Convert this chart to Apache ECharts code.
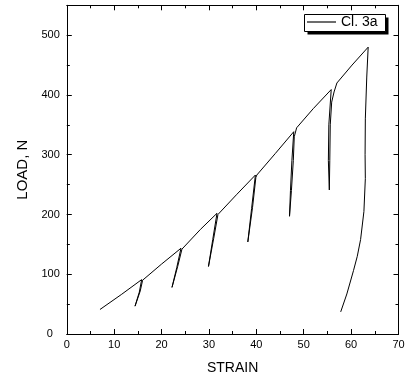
<!DOCTYPE html>
<html>
<head>
<meta charset="utf-8">
<script src="https://cdn.jsdelivr.net/npm/echarts@6/dist/echarts.min.js"></script>
<style>
html,body{margin:0;padding:0;background:#fff;}
#chart{width:409px;height:380px;}
</style>
</head>
<body>
<div id="chart"></div>
<script>
// ---- data (strain, load N) ----
const seriesName = 'Cl. 3a';
const xTickLabels = [0, 10, 20, 30, 40, 50, 60, 70];
const yTickLabels = [0, 100, 200, 300, 400, 500];

const rise1  = [[7.0, 41], [11.5, 66], [15.8, 91]];
const cycle1 = [[15.3, 70], [14.4, 46.6], [15.5, 72], [16.0, 90]];
const rise2  = [[20.0, 117], [24.1, 143.5]];
const cycle2 = [[23.2, 111], [22.2, 78], [23.4, 113], [24.3, 142]];
const rise3  = [[28.2, 175], [31.7, 202]];
const cycle3 = [[30.8, 158], [29.9, 113], [31.0, 160], [31.9, 200]];
const rise4  = [[35.8, 233], [39.8, 266]];
const cycle4 = [[39.0, 210], [38.2, 154], [39.2, 212], [39.9, 262], [40.1, 266]];
const rise5  = [[44.0, 302], [47.9, 338.5]];
const cycle5 = [[47.5, 290], [47.2, 240], [47.0, 197], [47.4, 240], [47.8, 290], [48.0, 330], [48.5, 345]];
const rise6  = [[52.0, 377], [55.8, 409]];
const cycle6 = [[55.3, 350], [55.2, 290], [55.4, 241], [55.5, 290], [55.6, 350], [55.9, 388], [56.4, 405], [57.0, 420]];
const rise7  = [[60.2, 450], [63.6, 480]];
const finalUnload = [[63.3, 430], [63.0, 360], [62.95, 300], [63.0, 260], [62.7, 205], [62.0, 158], [61.3, 130], [60.5, 106], [59.1, 67], [57.8, 37]];

const path = [].concat(rise1, cycle1, rise2, cycle2, rise3, cycle3, rise4, cycle4,
                       rise5, cycle5, rise6, cycle6, rise7, finalUnload);

const chart = echarts.init(document.getElementById('chart'), null, {renderer: 'canvas'});
const black = '#000';
const font = 'Liberation Sans, Arial, sans-serif';

function xAx(pos, labels) {
  return {
    type: 'value', position: pos, min: 0, max: 70, interval: 10,
    axisLine: {show: true, onZero: false, lineStyle: {color: black, width: 1}},
    axisTick: {show: true, inside: true, length: 5, lineStyle: {color: black}},
    minorTick: {show: true, splitNumber: 2, length: 3, lineStyle: {color: black}},
    splitLine: {show: false}, minorSplitLine: {show: false},
    axisLabel: {show: labels, color: black, fontSize: 11, fontFamily: font, margin: 5,
      formatter: v => xTickLabels.includes(v) ? String(v) : ''},
    name: labels ? 'STRAIN' : '', nameLocation: 'middle', nameGap: 27,
    nameTextStyle: {color: black, fontSize: 14, fontFamily: font}
  };
}
function yAx(pos, labels, interval, len, showLine, name) {
  return {
    type: 'value', position: pos, min: 0, max: 550, interval: interval,
    axisLine: {show: showLine, onZero: false, lineStyle: {color: black, width: 1}},
    axisTick: {show: true, inside: true, length: len, lineStyle: {color: black}},
    splitLine: {show: false},
    axisLabel: {show: labels, color: black, fontSize: 11, fontFamily: font, margin: 7,
      showMaxLabel: false,
      formatter: v => yTickLabels.includes(v) ? (v === 0 ? '{z|0}' : String(v)) : '',
      rich: {z: {fontSize: 11, fontFamily: font, color: black, padding: [0, 7, 0, 0]}}},
    name: name || '', nameLocation: 'middle', nameGap: 35,
    nameTextStyle: {color: black, fontSize: 15, fontFamily: font}
  };
}

chart.setOption({
  animation: false,
  backgroundColor: '#fff',
  grid: {left: 66.8, right: 10.5, top: 5.3, bottom: 42.5, containLabel: false},
  xAxis: [xAx('bottom', true), xAx('top', false)],
  yAxis: [
    yAx('left', true, 100, 5, true, 'LOAD, N'),
    yAx('left', false, 50, 3, false),
    yAx('right', false, 100, 5, true),
    yAx('right', false, 50, 3, false)
  ],
  legend: {
    show: true, left: 305, top: 14,
    data: [{name: seriesName, icon: 'path://M0,0 L1,0 L1,0.04 L0,0.04 Z'}],
    itemWidth: 29, itemHeight: 16, itemGap: 0,
    padding: [1, 0, 1, 2],
    backgroundColor: 'transparent', borderWidth: 0,
    textStyle: {color: black, fontSize: 14, fontFamily: font},
    z: 10
  },
  graphic: [
    {type: 'rect', z: 1, silent: true,
     shape: {x: 307.5, y: 17.5, width: 81, height: 17},
     style: {fill: black}},
    {type: 'rect', z: 2, silent: true,
     shape: {x: 304.5, y: 14.5, width: 81, height: 17},
     style: {fill: '#fff', stroke: black, lineWidth: 1}}
  ],
  series: [{
    name: seriesName, type: 'line', xAxisIndex: 0, yAxisIndex: 0,
    data: path, symbol: 'none', showSymbol: false, smooth: false,
    lineStyle: {color: black, width: 1}, itemStyle: {color: black},
    z: 3
  }]
});
</script>
</body>
</html>
